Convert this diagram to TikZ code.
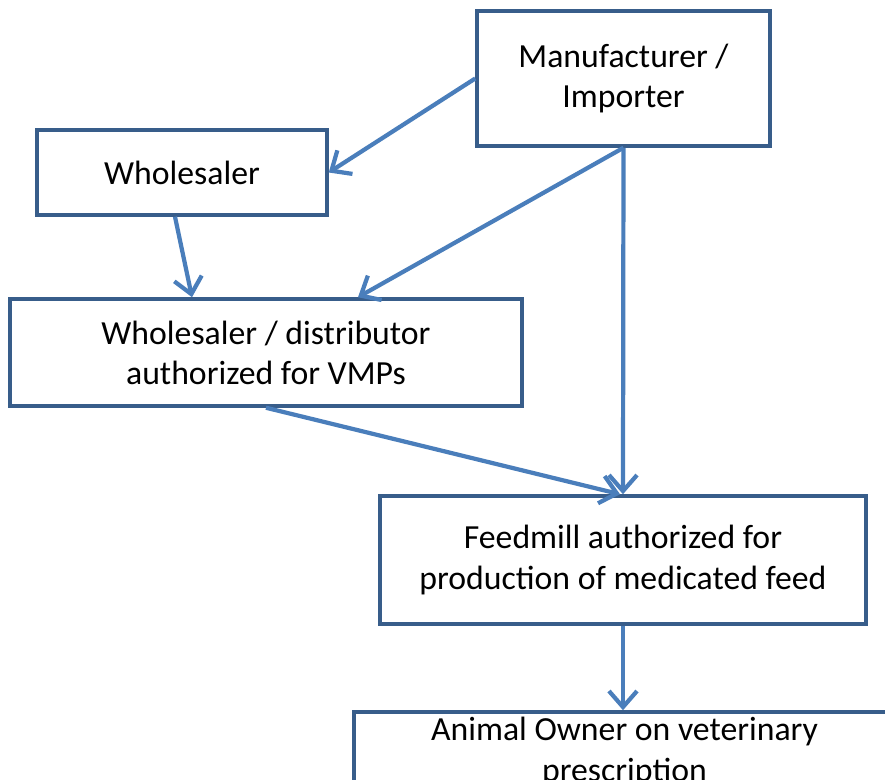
\documentclass[tikz,border=0pt]{standalone}
\usepackage{fontspec}
\setmainfont{Carlito}
\usetikzlibrary{arrows.meta}
\definecolor{boxline}{HTML}{385D8A}
\definecolor{flowline}{HTML}{4A7EBB}
\begin{document}
\begin{tikzpicture}
\tikzstyle{stage}=[draw=boxline, line width=1pt, align=center, inner sep=0pt,
  font=\fontsize{9.6}{11.4}\selectfont]
\tikzstyle{flow}=[draw=flowline, line width=1.2pt, -{Straight Barb[length=1.6mm,width=2.8mm]}]
\useasboundingbox (0,0) rectangle (8.85,-7.8);
\clip (0,0) rectangle (8.85,-7.8);
\node [stage, minimum width=2.93cm, minimum height=1.35cm] (mfr) at (6.235,-0.785) {Manufacturer /\\Importer};
\node [stage, minimum width=2.90cm, minimum height=0.85cm] (whole) at (1.82,-1.725) {Wholesaler};
\node [stage, minimum width=5.12cm, minimum height=1.07cm] (wd) at (2.66,-3.525) {Wholesaler / distributor\\authorized for VMPs};
\node [stage, minimum width=4.86cm, minimum height=1.28cm] (feed) at (6.23,-5.60) {Feedmill authorized for\\production of medicated feed};
\node [stage, minimum width=5.41cm, minimum height=0.80cm] (owner) at (6.245,-7.52) {Animal Owner on veterinary\\prescription};
\draw [flow] (mfr.west) -- (whole.east);
\draw [flow] (mfr.south) -- ([xshift=0.92cm]wd.north);
\draw [flow] (mfr.south) -- (feed.north);
\draw [flow] ([xshift=-0.07cm]whole.south) -- ([xshift=-0.74cm]wd.north);
\draw [flow] (wd.south) -- ([xshift=-0.03cm]feed.north);
\draw [flow] (feed.south) -- (feed.south |- owner.north);
\end{tikzpicture}
\end{document}
